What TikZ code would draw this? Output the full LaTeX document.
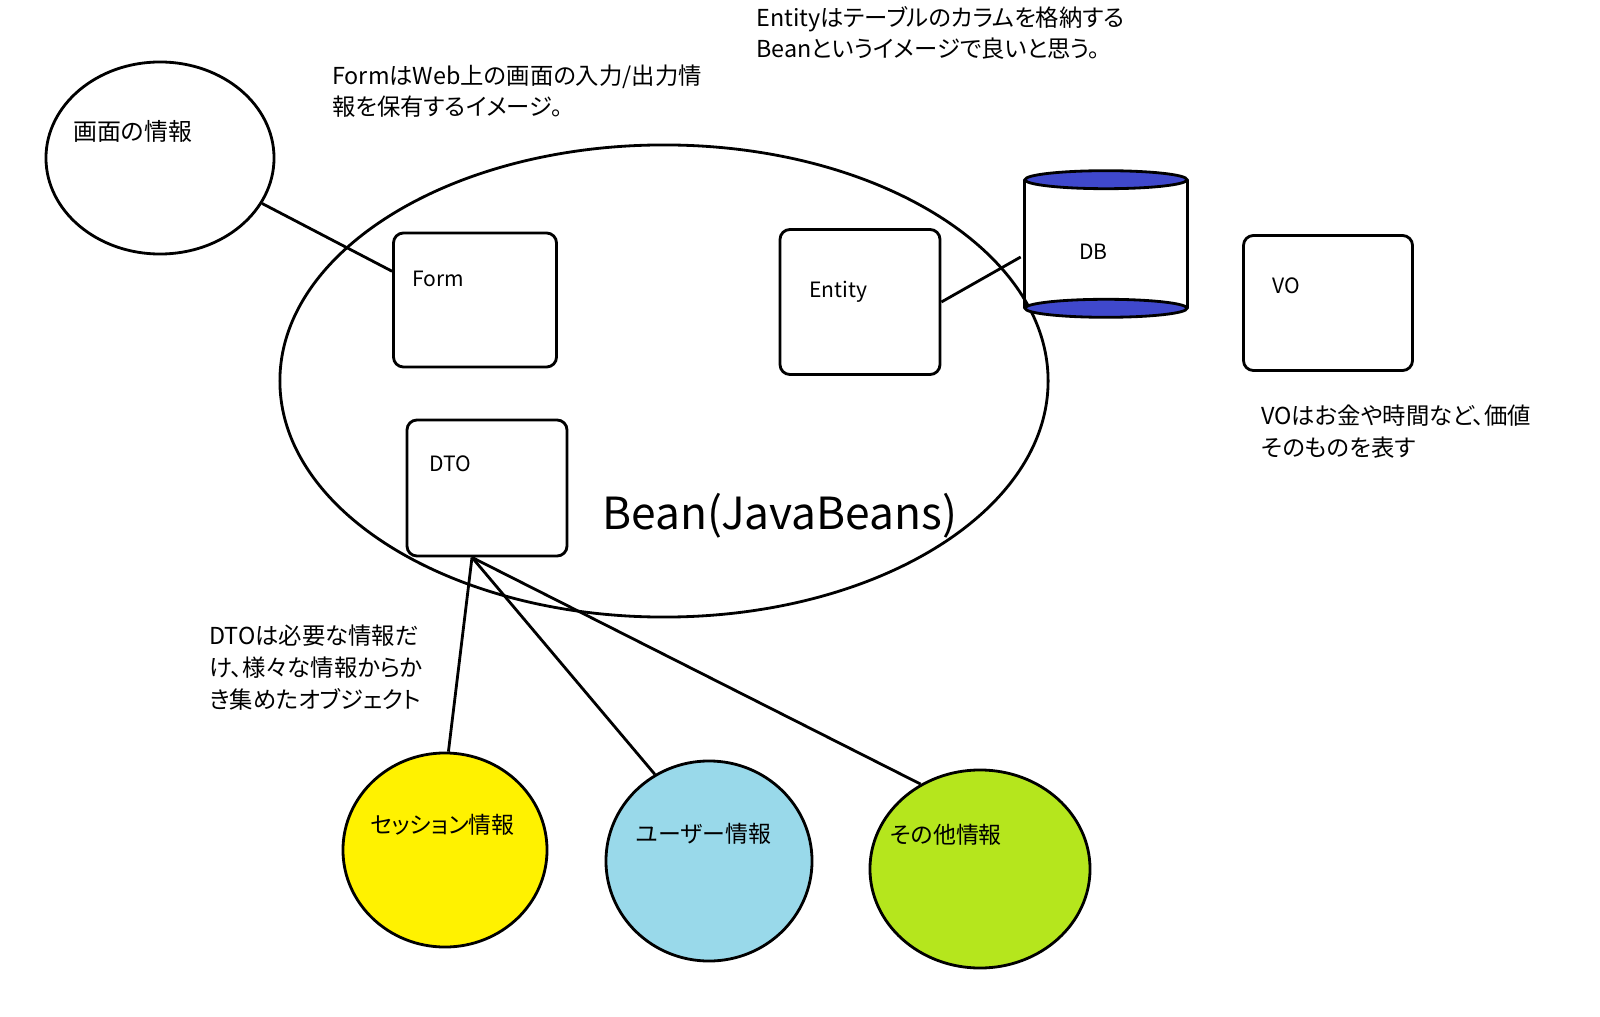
\documentclass[tikz,border=0pt]{standalone}
\usepackage{fontspec}
\setmainfont{Noto Sans CJK JP}[RawFeature=+palt]
\usepackage{tikz}
\usetikzlibrary{shapes.geometric, positioning, calc}
\definecolor{dbblue}{HTML}{3F48CC}
\definecolor{sessionyellow}{HTML}{FFF200}
\definecolor{userblue}{HTML}{99D9EA}
\definecolor{otherlime}{HTML}{B5E61D}

\tikzset{
  oval/.style={draw, ellipse, line width=2pt, inner sep=0pt},
  beanbox/.style={draw, rectangle, rounded corners=0.25cm, line width=2pt, inner sep=0pt},
  lbl/.style={anchor=base west, inner sep=0pt, font=\fontsize{15}{18}\selectfont},
  note/.style={anchor=base west, inner sep=0pt, align=left, font=\fontsize{16.6}{22.6}\selectfont},
  link/.style={line width=2pt}
}

\begin{document}
\begin{tikzpicture}[x=0.025cm, y=-0.025cm]
  \useasboundingbox (0,0) rectangle (1600,1017);
  \fill[white] (0,0) rectangle (1600,1017);

  % Bean
  \node[oval, minimum width=19.2cm, minimum height=11.8cm] (bean) at (664,381) {};
  \node[anchor=base west, inner sep=0pt, font=\fontsize{31.5}{36}\selectfont] (beanlbl) at (602,529) {Bean(JavaBeans)};

  % boxes
  \node[beanbox, minimum width=4.075cm, minimum height=3.35cm] (form) at (475,300) {};
  \node[beanbox, minimum width=4cm, minimum height=3.625cm] (entity) at (860,302) {};
  \node[beanbox, minimum width=4cm, minimum height=3.4cm] (dto) at (487,488) {};
  \node[beanbox, minimum width=4.225cm, minimum height=3.375cm] (vo) at (1328,303) {};
  \node[lbl] (formlbl) at (412,287) {Form};
  \node[lbl] (entitylbl) at (809,298) {Entity};
  \node[lbl] (dtolbl) at (429,472) {DTO};
  \node[lbl] (volbl) at (1272,294) {VO};

  % DB
  \node[minimum width=4.05cm, minimum height=3.2cm, inner sep=0pt] (db) at (1106,244) {};
  \draw[line width=2pt] (db.north west) -- (db.south west) (db.north east) -- (db.south east);
  \filldraw[fill=dbblue, line width=2pt] (db.north) ellipse [x radius=2.025cm, y radius=0.225cm];
  \filldraw[fill=dbblue, line width=2pt] (db.south) ellipse [x radius=2.025cm, y radius=0.225cm];
  \node[lbl] (dblbl) at (1079,260) {DB};

  % screen
  \node[oval, minimum width=5.7cm, minimum height=4.8cm] (gamen) at (160,158) {};
  \node[anchor=base west, inner sep=0pt, font=\fontsize{17}{20}\selectfont] (gamenlbl) at (73,141) {画面の情報};

  % info circles
  \node[oval, fill=sessionyellow, minimum width=5.1cm, minimum height=4.85cm] (session) at (445,850) {};
  \node[oval, fill=userblue, minimum width=5.15cm, minimum height=5cm] (user) at (709,861) {};
  \node[oval, fill=otherlime, minimum width=5.5cm, minimum height=4.95cm] (other) at (980,869) {};
  \node[anchor=base west, inner sep=0pt, font=\fontsize{16.3}{20}\selectfont] (sessionlbl) at (370,833) {セッション情報};
  \node[anchor=base west, inner sep=0pt, font=\fontsize{16.3}{20}\selectfont] (userlbl) at (636,842) {ユーザー情報};
  \node[anchor=base west, inner sep=0pt, font=\fontsize{16.3}{20}\selectfont] (otherlbl) at (890,843) {その他情報};

  % connectors
  \draw[link] (gamen.-24) -- ($(form.north west)!0.29!(form.south west)$);
  \draw[link] (entity.east) -- ($(db.west)+(-4,13)$);
  \coordinate (dtofoot) at ($(dto.south)+(-15,0)$);
  \draw[link] (dtofoot) -- (session.88);
  \draw[link] (dtofoot) -- (user.122);
  \draw[link] (dtofoot) -- (other.125);

  % notes (anchored at the last line)
  \node[note] (formnote) at (332,116) {FormはWeb上の画面の入力/出力情\\報を保有するイメージ。};
  \node[note] (entitynote) at (756,58) {Entityはテーブルのカラムを格納する\\Beanというイメージで良いと思う。};
  \node[note] (vonote) at (1261,456) {VOはお金や時間など、価値\\そのものを表す};
  \node[note] (dtonote) at (209,708) {DTOは必要な情報だ\\け、様々な情報からか\\き集めたオブジェクト};
\end{tikzpicture}
\end{document}
